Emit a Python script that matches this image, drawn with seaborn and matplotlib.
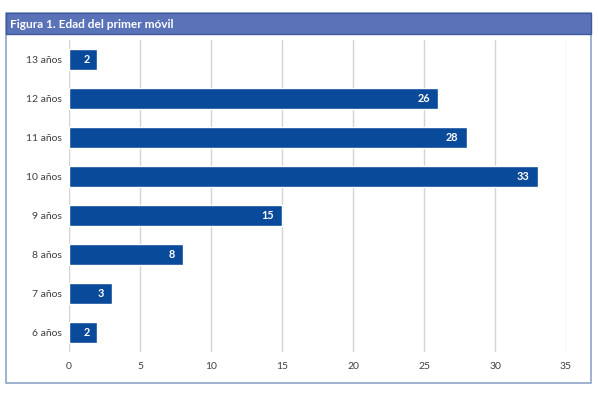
import matplotlib
matplotlib.use('Agg')
import matplotlib.pyplot as plt
import seaborn as sns
import pandas as pd
from matplotlib.patches import Rectangle

# Data
edades = ['13 años', '12 años', '11 años', '10 años', '9 años', '8 años', '7 años', '6 años']
valores = [2, 26, 28, 33, 15, 8, 3, 2]
x_ticks = [0, 5, 10, 15, 20, 25, 30, 35]
titulo = 'Figura 1. Edad del primer móvil'

df = pd.DataFrame({'edad': edades, 'valor': valores})

sns.set_theme(style='white')
plt.rcParams['font.family'] = ['Lato', 'DejaVu Sans']

fig = plt.figure(figsize=(5.98, 3.93), dpi=100)

# outer frame and title band (kept below the axes)
fig.patches.append(Rectangle((6 / 598, 1 - 383 / 393), 585 / 598, 370 / 393,
                             transform=fig.transFigure, facecolor='white',
                             edgecolor='#8ea6c8', linewidth=1.2, zorder=-2))
fig.patches.append(Rectangle((6 / 598, 1 - 34 / 393), 585 / 598, 21 / 393,
                             transform=fig.transFigure, facecolor='#5a72b8',
                             edgecolor='#3f5a9c', linewidth=1.0, zorder=-1))
fig.text(10 / 598, 1 - 24 / 393, titulo, color='white', fontsize=8.6,
         fontweight='bold', va='center', ha='left')

ax = fig.add_axes([69 / 598, 41 / 393, 497 / 598, 312 / 393])
ax.patch.set_alpha(0)
sns.barplot(data=df, x='valor', y='edad', color='#0a4a9a', saturation=1,
            width=0.52, ax=ax, zorder=3)

ax.set_xlim(0, 35)
ax.set_xticks(x_ticks)
ax.set_xlabel('')
ax.set_ylabel('')
for s in ax.spines.values():
    s.set_visible(False)
ax.grid(axis='x', color='#d3d3d3', linewidth=1.0, zorder=0)
ax.set_axisbelow(True)
ax.tick_params(axis='both', length=0, labelsize=7.5, colors='#404040')
ax.tick_params(axis='x', pad=7.5)
ax.tick_params(axis='y', pad=5)

# value labels inside the bar ends
for i, v in enumerate(valores):
    ax.annotate(str(v), xy=(v, i), xytext=(-8, 0), textcoords='offset pixels',
                ha='right', va='center', color='white', fontsize=7.8,
                fontweight='bold', zorder=5)

fig.savefig('out.png', dpi=100)
